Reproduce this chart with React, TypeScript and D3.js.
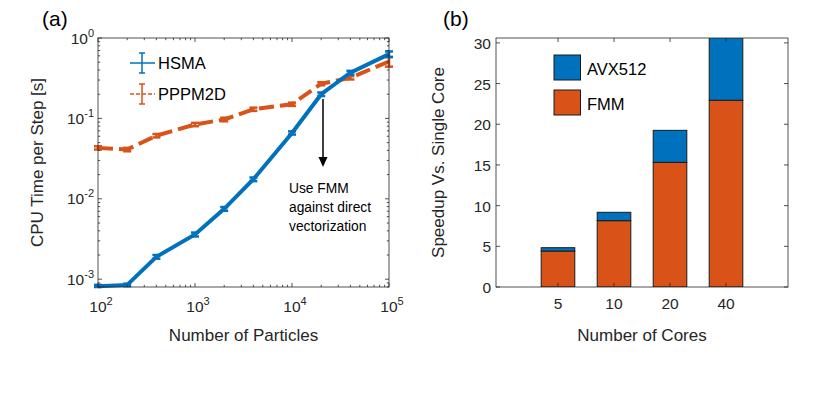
import React from "react";
import * as d3 from "d3";

const particles = [100, 200, 400, 1000, 2000, 4000, 10000, 20000, 40000, 100000];
const hsma = [0.00082, 0.00085, 0.0019, 0.0036, 0.0075, 0.0175, 0.066, 0.2, 0.37, 0.63];
const hsmaErr = [0.00003, 0.00003, 0.0001, 0.0002, 0.0004, 0.0009, 0.003, 0.01, 0.02, 0.05];
const pppm = [0.043, 0.041, 0.061, 0.084, 0.097, 0.13, 0.15, 0.27, 0.32, 0.51];
const pppmErr = [0.002, 0.002, 0.003, 0.004, 0.005, 0.006, 0.007, 0.012, 0.015, 0.07];
const xTickVals = [100, 1000, 10000, 100000];
const xTickExp = ["2", "3", "4", "5"];
const yTickVals = [0.001, 0.01, 0.1, 1];
const yTickExp = ["-3", "-2", "-1", "0"];

const cores = ["5", "10", "20", "40"];
const fmm = [4.42, 8.15, 15.32, 22.95];
const avx = [0.41, 1.03, 3.93, 8.5];
const barYTicks = [0, 5, 10, 15, 20, 25, 30];

const BLUE = "#0072BD";
const ORANGE = "#D95319";
const AX = "#262626";
const FONT = "'Liberation Sans', Arial, Helvetica, sans-serif";

function LeftPlot() {
  const L = 98, R = 389, T = 38, B = 287;
  const x = d3.scaleLog().domain([100, 100000]).range([L, R]);
  const y = d3.scaleLog().domain([0.0008, 1]).range([B, T]);
  const line = d3.line<number>().x((_, i) => x(particles[i])).y((d) => y(d));
  const minorX: number[] = [];
  for (let e = 2; e < 5; e++) for (let k = 2; k <= 9; k++) minorX.push(k * Math.pow(10, e));
  const minorY: number[] = [];
  for (let e = -4; e < 0; e++) for (let k = 1; k <= 9; k++) {
    const v = k * Math.pow(10, e);
    if (v >= 0.0008 && v <= 1 && k !== 1) minorY.push(v);
  }
  const tl = 4, tm = 2.2;
  const errBars = (vals: number[], errs: number[], color: string) =>
    vals.map((v, i) => {
      const cx = x(particles[i]);
      const y1 = y(Math.max(v - errs[i], 0.0008));
      const y2 = y(Math.min(v + errs[i], 1));
      return (
        <g key={i} stroke={color} strokeWidth={2.5}>
          <line x1={cx} x2={cx} y1={y1} y2={y2} />
          <line x1={cx - 4} x2={cx + 4} y1={y1} y2={y1} />
          <line x1={cx - 4} x2={cx + 4} y1={y2} y2={y2} />
        </g>
      );
    });
  return (
    <g fontFamily={FONT}>
      <defs>
        <clipPath id="clipL">
          <rect x={L - 6} y={T - 6} width={R - L + 12} height={B - T + 12} />
        </clipPath>
      </defs>
      <g clipPath="url(#clipL)">
        <path d={line(pppm) || ""} fill="none" stroke={ORANGE} strokeWidth={4} strokeDasharray="15 6" />
        {errBars(pppm, pppmErr, ORANGE)}
        <path d={line(hsma) || ""} fill="none" stroke={BLUE} strokeWidth={4} />
        {errBars(hsma, hsmaErr, BLUE)}
      </g>
      <rect x={L} y={T} width={R - L} height={B - T} fill="none" stroke={AX} strokeWidth={0.8} />
      {xTickVals.map((v) => (
        <g key={v} stroke={AX} strokeWidth={0.8}>
          <line x1={x(v)} x2={x(v)} y1={B} y2={B - tl} />
          <line x1={x(v)} x2={x(v)} y1={T} y2={T + tl} />
        </g>
      ))}
      {minorX.map((v) => (
        <g key={v} stroke={AX} strokeWidth={0.8}>
          <line x1={x(v)} x2={x(v)} y1={B} y2={B - tm} />
          <line x1={x(v)} x2={x(v)} y1={T} y2={T + tm} />
        </g>
      ))}
      {yTickVals.map((v) => (
        <g key={v} stroke={AX} strokeWidth={0.8}>
          <line x1={L} x2={L + tl} y1={y(v)} y2={y(v)} />
          <line x1={R} x2={R - tl} y1={y(v)} y2={y(v)} />
        </g>
      ))}
      {minorY.map((v) => (
        <g key={v} stroke={AX} strokeWidth={0.8}>
          <line x1={L} x2={L + tm} y1={y(v)} y2={y(v)} />
          <line x1={R} x2={R - tm} y1={y(v)} y2={y(v)} />
        </g>
      ))}
      {xTickVals.map((v, i) => (
        <text key={v} x={x(v) + 3} y={B + 25} textAnchor="middle" fontSize={15.5} fill={AX}>
          10<tspan dy={-7} fontSize={11}>{xTickExp[i]}</tspan>
        </text>
      ))}
      {yTickVals.map((v, i) => (
        <text key={v} x={L - 4} y={y(v) + 5.5} textAnchor="end" fontSize={15.5} fill={AX}>
          10<tspan dy={-7} fontSize={11}>{yTickExp[i]}</tspan>
        </text>
      ))}
      <text x={(L + R) / 2} y={341} textAnchor="middle" fontSize={17} fill={AX}>Number of Particles</text>
      <text transform={`translate(43,${(T + B) / 2}) rotate(-90)`} textAnchor="middle" fontSize={17} fill={AX}>CPU Time per Step [s]</text>
      <text x={42} y={26} fontSize={21} fill="#000">(a)</text>
      <g>
        <line x1={130} x2={155} y1={63} y2={63} stroke={BLUE} strokeWidth={1.5} />
        <line x1={142} x2={142} y1={53} y2={73} stroke={BLUE} strokeWidth={1.5} />
        <line x1={139} x2={145} y1={53} y2={53} stroke={BLUE} strokeWidth={1.5} />
        <line x1={139} x2={145} y1={73} y2={73} stroke={BLUE} strokeWidth={1.5} />
        <text x={158} y={68.5} fontSize={16.5} fill="#000">HSMA</text>
        <line x1={130} x2={155} y1={94} y2={94} stroke={ORANGE} strokeWidth={1.5} strokeDasharray="4 2" />
        <line x1={142} x2={142} y1={84} y2={104} stroke={ORANGE} strokeWidth={1.5} />
        <line x1={139} x2={145} y1={84} y2={84} stroke={ORANGE} strokeWidth={1.5} />
        <line x1={139} x2={145} y1={104} y2={104} stroke={ORANGE} strokeWidth={1.5} />
        <text x={158} y={99.5} fontSize={16.5} fill="#000">PPPM2D</text>
      </g>
      <line x1={323} x2={323} y1={99} y2={158} stroke="#000" strokeWidth={1.5} />
      <path d="M318.5,157 L327.5,157 L323,167 Z" fill="#000" />
      <text fontSize={13.8} fill="#000">
        <tspan x={289} y={192.5}>Use FMM</tspan>
        <tspan x={289} y={211.5}>against direct</tspan>
        <tspan x={289} y={230.5}>vectorization</tspan>
      </text>
    </g>
  );
}

function RightPlot() {
  const L = 496, R = 788, T = 38, B = 287;
  const idx = cores.map((_, i) => i + 1);
  const x = d3.scaleLinear().domain([1 - 1.107, 4 + 1.107]).range([L, R]);
  const y = d3.scaleLinear().domain([0, 30.6]).range([B, T]);
  const bw = x(1.6) - x(1);
  const tl = 4;
  return (
    <g fontFamily={FONT}>
      <defs>
        <clipPath id="clipR">
          <rect x={L} y={T} width={R - L} height={B - T} />
        </clipPath>
      </defs>
      <g clipPath="url(#clipR)" stroke="#1a1a1a" strokeWidth={1}>
        {idx.map((p, i) => (
          <g key={i}>
            <rect x={x(p) - bw / 2} y={y(fmm[i])} width={bw} height={y(0) - y(fmm[i])} fill={ORANGE} />
            <rect x={x(p) - bw / 2} y={y(fmm[i] + avx[i])} width={bw} height={y(fmm[i]) - y(fmm[i] + avx[i])} fill={BLUE} />
          </g>
        ))}
      </g>
      <rect x={L} y={T} width={R - L} height={B - T} fill="none" stroke={AX} strokeWidth={0.8} />
      {idx.map((p) => (
        <g key={p} stroke={AX} strokeWidth={0.8}>
          <line x1={x(p)} x2={x(p)} y1={B} y2={B - tl} />
          <line x1={x(p)} x2={x(p)} y1={T} y2={T + tl} />
        </g>
      ))}
      {barYTicks.map((v) => (
        <g key={v} stroke={AX} strokeWidth={0.8}>
          <line x1={L} x2={L + tl} y1={y(v)} y2={y(v)} />
          <line x1={R} x2={R - tl} y1={y(v)} y2={y(v)} />
        </g>
      ))}
      {idx.map((p, i) => (
        <text key={p} x={x(p)} y={B + 22} textAnchor="middle" fontSize={15.5} fill={AX}>{cores[i]}</text>
      ))}
      {barYTicks.map((v) => (
        <text key={v} x={L - 5} y={y(v) + 6} textAnchor="end" fontSize={15.5} fill={AX}>{v}</text>
      ))}
      <text x={(L + R) / 2} y={341} textAnchor="middle" fontSize={17} fill={AX}>Number of Cores</text>
      <text transform={`translate(443.5,${(T + B) / 2}) rotate(-90)`} textAnchor="middle" fontSize={17} fill={AX}>Speedup Vs. Single Core</text>
      <text x={443} y={26} fontSize={21} fill="#000">(b)</text>
      <rect x={554} y={55} width={26.5} height={25} fill={BLUE} stroke="#1a1a1a" strokeWidth={1} />
      <text x={587} y={75} fontSize={16.5} fill="#000">AVX512</text>
      <rect x={554} y={90} width={26.5} height={25} fill={ORANGE} stroke="#1a1a1a" strokeWidth={1} />
      <text x={587} y={110} fontSize={16.5} fill="#000">FMM</text>
    </g>
  );
}

export default function App() {
  return (
    <svg width={830} height={395} style={{ position: "absolute", left: 0, top: 0 }}>
      <rect width={830} height={395} fill="#fff" />
      <LeftPlot />
      <RightPlot />
    </svg>
  );
}
